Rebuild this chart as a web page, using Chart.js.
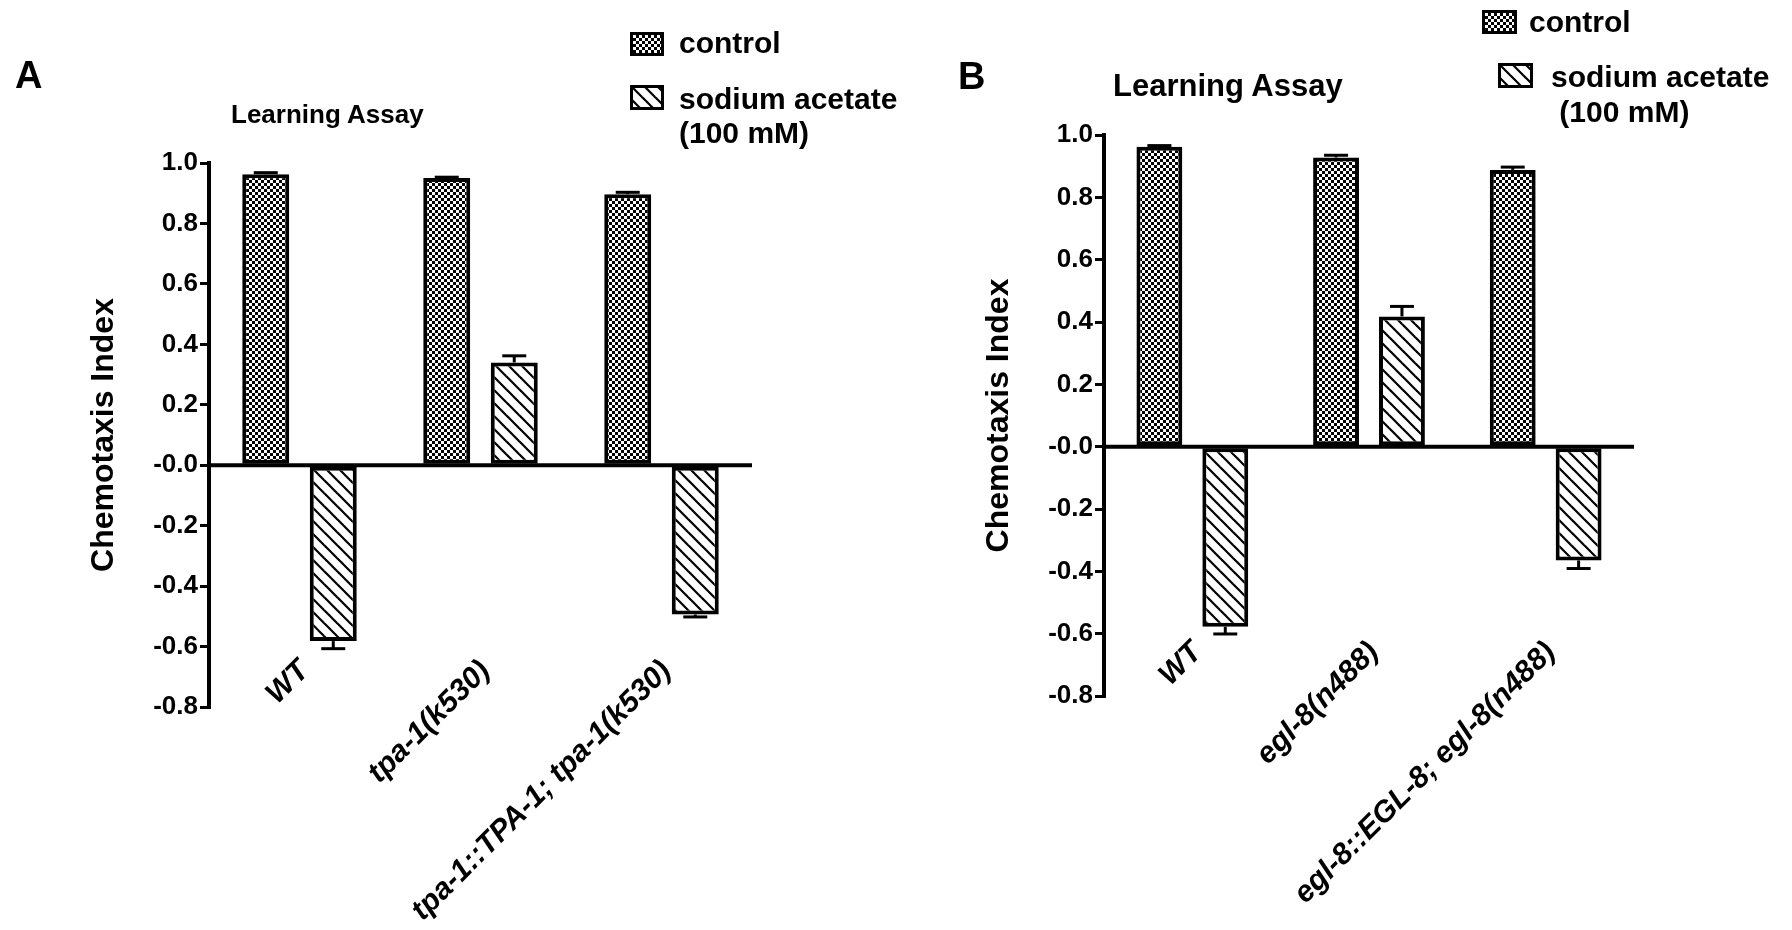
<!DOCTYPE html>
<html>
<head>
<meta charset="utf-8">
<script src="https://cdn.jsdelivr.net/npm/chart.js@4.4.1/dist/chart.umd.min.js"></script>
<style>
  html, body { margin: 0; padding: 0; background: #fff; }
  body { width: 1792px; height: 930px; position: relative; overflow: hidden;
         font-family: "Liberation Sans", Arial, sans-serif; font-weight: bold; color: #000; }
  .t { position: absolute; line-height: 1; white-space: pre; }
  canvas.chart { position: absolute; top: 0; }
  canvas.icon { position: absolute; }
</style>
</head>
<body>
<canvas id="chartA" class="chart" width="896" height="930" style="left:0"></canvas>
<canvas id="chartB" class="chart" width="896" height="930" style="left:896px"></canvas>

<div class="t" style="left:15px;top:56px;font-size:38px">A</div>
<div class="t" style="left:958px;top:57px;font-size:38px">B</div>
<div class="t" style="left:231px;top:101px;font-size:26px">Learning Assay</div>
<div class="t" style="left:1113px;top:70px;font-size:31px">Learning Assay</div>

<canvas class="icon" id="iconA1" width="34" height="24" style="left:630px;top:32px"></canvas>
<div class="t" style="left:679px;top:28px;font-size:30px">control</div>
<canvas class="icon" id="iconA2" width="34" height="25" style="left:630px;top:85px"></canvas>
<div class="t" style="left:679px;top:84px;font-size:30px">sodium acetate</div>
<div class="t" style="left:679px;top:118px;font-size:30px">(100 mM)</div>

<canvas class="icon" id="iconB1" width="35" height="24" style="left:1482px;top:10px"></canvas>
<div class="t" style="left:1529px;top:7px;font-size:30px">control</div>
<canvas class="icon" id="iconB2" width="35" height="25" style="left:1498px;top:63px"></canvas>
<div class="t" style="left:1551px;top:62px;font-size:30px">sodium acetate</div>
<div class="t" style="left:1551px;top:97px;font-size:30px"> (100 mM)</div>

<script>
// ---------------- data ----------------
const seriesNames = ['control', 'sodium acetate (100 mM)'];
const yTickLabels = ['-0.8', '-0.6', '-0.4', '-0.2', '-0.0', '0.2', '0.4', '0.6', '0.8', '1.0'];

const categoriesA = ['WT', 'tpa-1(k530)', 'tpa-1::TPA-1; tpa-1(k530)'];
const controlA    = [0.963, 0.950, 0.897];
const controlErrA = [0.005, 0.003, 0.006];
const sodiumA     = [-0.582, 0.340, -0.494];
const sodiumErrA  = [0.025, 0.022, 0.008];

const categoriesB = ['WT', 'egl-8(n488)', 'egl-8::EGL-8; egl-8(n488)'];
const controlB    = [0.962, 0.928, 0.888];
const controlErrB = [0.004, 0.007, 0.009];
const sodiumB     = [-0.578, 0.418, -0.365];
const sodiumErrB  = [0.023, 0.032, 0.026];

// ---------------- patterns ----------------
const FONT = '"Liberation Sans", Arial, sans-serif';

function makeChecker() {
  const c = document.createElement('canvas');
  c.width = 6; c.height = 6;
  const g = c.getContext('2d');
  g.fillStyle = '#000'; g.fillRect(0, 0, 6, 6);
  g.fillStyle = '#fff'; g.fillRect(0, 0, 3, 3); g.fillRect(3, 3, 3, 3);
  return c;
}
function makeHatch() {
  const s = 13;
  const c = document.createElement('canvas');
  c.width = s; c.height = s;
  const g = c.getContext('2d');
  g.fillStyle = '#fff'; g.fillRect(0, 0, s, s);
  g.strokeStyle = '#000'; g.lineWidth = 2.2;
  for (let k = -1; k <= 1; k++) {
    g.beginPath();
    g.moveTo(k * s - 2, -2);
    g.lineTo(k * s + s + 2, s + 2);
    g.stroke();
  }
  return c;
}
const checkerTile = makeChecker();
const hatchTile = makeHatch();

function fillIcon(id, tile) {
  const c = document.getElementById(id);
  const g = c.getContext('2d');
  g.fillStyle = '#000'; g.fillRect(0, 0, c.width, c.height);
  g.fillStyle = g.createPattern(tile, 'repeat');
  g.fillRect(3, 3, c.width - 6, c.height - 6);
}
fillIcon('iconA1', checkerTile); fillIcon('iconA2', hatchTile);
fillIcon('iconB1', checkerTile); fillIcon('iconB2', hatchTile);

// ---------------- plugins ----------------
const errorBarPlugin = {
  id: 'errorBars',
  afterDatasetsDraw(chart, args, opts) {
    const { ctx, scales: { x, y }, chartArea } = chart;
    ctx.save();
    ctx.strokeStyle = '#000';
    chart.data.datasets.forEach((ds, di) => {
      const meta = chart.getDatasetMeta(di);
      const errs = opts.errors[di];
      meta.data.forEach((bar, i) => {
        const v = ds.data[i];
        const e = errs[i];
        const end = v >= 0 ? v + e : v - e;
        const yv = y.getPixelForValue(v);
        const ye = y.getPixelForValue(end);
        ctx.lineWidth = 3;
        ctx.beginPath();
        ctx.moveTo(bar.x, yv);
        ctx.lineTo(bar.x, ye);
        ctx.stroke();
        ctx.beginPath();
        ctx.moveTo(bar.x - 12, ye);
        ctx.lineTo(bar.x + 12, ye);
        ctx.stroke();
      });
    });
    // zero line
    const y0 = y.getPixelForValue(0);
    ctx.lineWidth = 4;
    ctx.beginPath();
    ctx.moveTo(chartArea.left, y0);
    ctx.lineTo(chartArea.right, y0);
    ctx.stroke();
    ctx.restore();
  }
};

const categoryLabelPlugin = {
  id: 'catLabels',
  afterDraw(chart, args, opts) {
    const { ctx, scales: { x, y } } = chart;
    const y0 = y.getPixelForValue(0);
    ctx.save();
    ctx.font = 'italic bold 30px ' + FONT;
    ctx.fillStyle = '#000';
    ctx.textAlign = 'right';
    ctx.textBaseline = 'middle';
    chart.data.labels.forEach((lab, i) => {
      const px = x.getPixelForValue(i);
      ctx.save();
      ctx.translate(px + opts.dx, y0 + opts.dy);
      ctx.rotate(-Math.PI / 4);
      ctx.fillText(lab, 0, 0);
      ctx.restore();
    });
    ctx.restore();
  }
};

// ---------------- charts ----------------
function makeChart(id, labels, ctrl, ctrlErr, sod, sodErr, padding) {
  const cv = document.getElementById(id);
  const g = cv.getContext('2d');
  const checker = g.createPattern(checkerTile, 'repeat');
  const hatch = g.createPattern(hatchTile, 'repeat');
  const barCommon = {
    borderColor: '#000', borderWidth: 4, borderSkipped: false,
    categoryPercentage: 0.746, barPercentage: 0.696
  };
  return new Chart(cv, {
    type: 'bar',
    data: {
      labels: labels,
      datasets: [
        Object.assign({ label: seriesNames[0], data: ctrl, backgroundColor: checker }, barCommon),
        Object.assign({ label: seriesNames[1], data: sod, backgroundColor: hatch }, barCommon)
      ]
    },
    options: {
      responsive: false,
      animation: false,
      devicePixelRatio: 1,
      layout: { padding: padding },
      plugins: {
        legend: { display: false },
        tooltip: { enabled: false },
        title: { display: false },
        errorBars: { errors: [ctrlErr, sodErr] },
        catLabels: { dx: 5, dy: 201 }
      },
      scales: {
        x: { display: false, grid: { display: false } },
        y: {
          min: -0.8, max: 1.0,
          afterFit: s => { s.width = 130; },
          border: { display: true, color: '#000', width: 4 },
          grid: { drawOnChartArea: false, drawTicks: true, tickLength: 9, color: '#000', lineWidth: 3 },
          ticks: {
            stepSize: 0.2, autoSkip: false, color: '#000', padding: 2,
            font: { family: FONT, weight: 'bold', size: 26 },
            callback: (v, i) => yTickLabels[i]
          },
          title: {
            display: true, text: 'Chemotaxis Index', color: '#000',
            font: { family: FONT, weight: 'bold', size: 32 },
            padding: { top: 6, bottom: 0 }
          }
        }
      }
    },
    plugins: [errorBarPlugin, categoryLabelPlugin]
  });
}

makeChart('chartA', categoriesA, controlA, controlErrA, sodiumA, sodiumErrA,
          { left: 79, right: 144, top: 163, bottom: 223 });
makeChart('chartB', categoriesB, controlB, controlErrB, sodiumB, sodiumErrB,
          { left: 78, right: 158, top: 135, bottom: 234 });
</script>
</body>
</html>
